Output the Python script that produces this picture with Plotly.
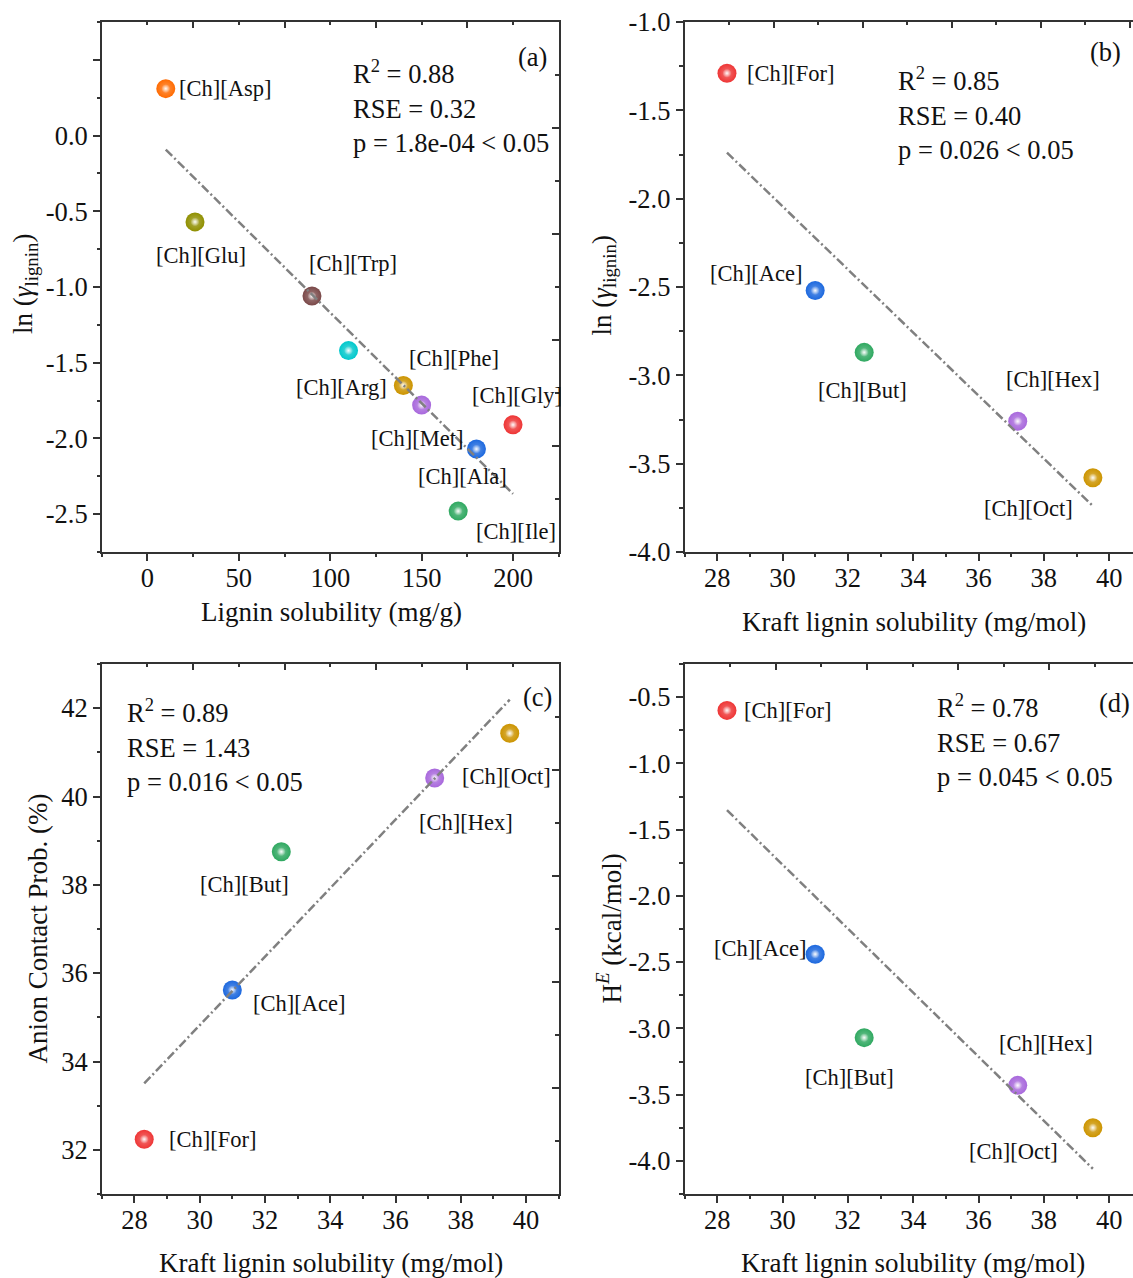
import numpy as np
import plotly.graph_objects as go

# ---------------- data ----------------
a_anions = ["[Ch][Asp]", "[Ch][Glu]", "[Ch][Trp]", "[Ch][Arg]", "[Ch][Phe]",
            "[Ch][Met]", "[Ch][Gly]", "[Ch][Ala]", "[Ch][Ile]"]
a_lignin_solubility = [10, 26, 90, 110, 140, 150, 200, 180, 170]
a_ln_gamma = [0.31, -0.57, -1.06, -1.42, -1.65, -1.78, -1.91, -2.07, -2.48]

kraft_anions = ["[Ch][For]", "[Ch][Ace]", "[Ch][But]", "[Ch][Hex]", "[Ch][Oct]"]
kraft_solubility = [28.3, 31.0, 32.5, 37.2, 39.5]
b_ln_gamma = [-1.29, -2.52, -2.87, -3.26, -3.58]
c_anion_contact = [32.24, 35.62, 38.75, 40.42, 41.43]
d_excess_enthalpy = [-0.60, -2.44, -3.07, -3.43, -3.75]

stats_r2 = ["0.88", "0.85", "0.89", "0.78"]
stats_rse = ["0.32", "0.40", "1.43", "0.67"]
stats_p = ["1.8e-04", "0.026", "0.016", "0.045"]
panel_letters = ["(a)", "(b)", "(c)", "(d)"]

x_titles = ["Lignin solubility (mg/g)", "Kraft lignin solubility (mg/mol)",
            "Kraft lignin solubility (mg/mol)", "Kraft lignin solubility (mg/mol)"]
y_titles = ["ln (<i>γ</i><sub>lignin</sub>)", "ln (<i>γ</i><sub>lignin</sub>)",
            "Anion Contact Prob. (%)", "H<sup><i>E</i></sup> (kcal/mol)"]

a_xtick_vals = [0, 50, 100, 150, 200]
a_ytick_vals = [-2.5, -2.0, -1.5, -1.0, -0.5, 0.0, 0.5]
a_ytick_text = ["-2.5", "-2.0", "-1.5", "-1.0", "-0.5", "0.0", ""]
kraft_xtick_vals = [28, 30, 32, 34, 36, 38, 40]
b_ytick_vals = [-4.0, -3.5, -3.0, -2.5, -2.0, -1.5, -1.0]
b_ytick_text = ["-4.0", "-3.5", "-3.0", "-2.5", "-2.0", "-1.5", "-1.0"]
c_ytick_vals = [32, 34, 36, 38, 40, 42]
c_ytick_text = ["32", "34", "36", "38", "40", "42"]
d_ytick_vals = [-4.0, -3.5, -3.0, -2.5, -2.0, -1.5, -1.0, -0.5]
d_ytick_text = ["-4.0", "-3.5", "-3.0", "-2.5", "-2.0", "-1.5", "-1.0", "-0.5"]

# ---------------- style ----------------
W, H = 1133, 1278
FONT = "Liberation Serif"
AX = "#333333"
TXT = "#111111"
a_colors = ["#FF6A00", "#8F8F00", "#7A4848", "#00C8CC", "#CC9400",
            "#A868DC", "#EE3535", "#1C68DE", "#2FA860"]
kraft_colors = ["#EE3535", "#1C68DE", "#2FA860", "#A868DC", "#CC9400"]


def lighten(hexc, f):
    h = hexc.lstrip("#")
    r, g, b = (int(h[i:i + 2], 16) for i in (0, 2, 4))
    r, g, b = (round(c + (255 - c) * f) for c in (r, g, b))
    return "#%02x%02x%02x" % (r, g, b)


def px_x(p):
    return p / W


def px_y(p):
    return 1 - p / H


# label offsets (pixels, dy positive downward)
a_label_off = [(59.5, 0), (5.6, 33.3), (40.7, -32.4), (-6.6, 36.7), (50.6, -27),
               (-4.6, 33.6), (3.7, -29.7), (-14, 27.7), (57.6, 20)]
b_label_off = [(63.9, 0.6), (-58.7, -17), (-1.5, 37.7), (35, -41.7), (-64.2, 30.6)]
c_label_off = [(68, 0), (66.4, 13.3), (-37.3, 32.6), (30.9, 44.4), (-3.1, 42.7)]
d_label_off = [(61, 0), (-55.2, -5.7), (-14.2, 39.6), (28.6, -41.7), (-78.9, 23.4)]

panels = [
    dict(x=a_lignin_solubility, y=a_ln_gamma, names=a_anions, colors=a_colors, off=a_label_off,
         xdom=(101.8, 558.7), ydom=(22, 552), xr=[-25, 225], yr=[-2.75, 0.75],
         xt=a_xtick_vals, xtt=[str(v) for v in a_xtick_vals], yt=a_ytick_vals, ytt=a_ytick_text,
         xminor=(0, 25), yminor=(0, 0.25), top_n=10.0, right=True,
         stats=(351, 106.5), letter=(532.7, 56.7), xtitle=(331, 611.7), ytitle=(25, 284)),
    dict(x=kraft_solubility, y=b_ln_gamma, names=kraft_anions, colors=kraft_colors, off=b_label_off,
         xdom=(684.5, 1133), ydom=(22, 552), xr=[27, 27 + 448.5 / 32.67], yr=[-4.0, -1.0],
         xt=kraft_xtick_vals, xtt=[str(v) for v in kraft_xtick_vals], yt=b_ytick_vals, ytt=b_ytick_text,
         xminor=(0, 1), yminor=(0, 0.25), top_n=448.5 / 44.5, right=False,
         stats=(896, 113), letter=(1105, 51.7), xtitle=(913.8, 621.7), ytitle=(603.5, 285)),
    dict(x=kraft_solubility, y=c_anion_contact, names=kraft_anions, colors=kraft_colors, off=c_label_off,
         xdom=(101.8, 558.7), ydom=(664, 1194), xr=[27, 41], yr=[31, 43],
         xt=kraft_xtick_vals, xtt=[str(v) for v in kraft_xtick_vals], yt=c_ytick_vals, ytt=c_ytick_text,
         xminor=(0, 1), yminor=(0, 1), top_n=10.0, right=True,
         stats=(124.7, 745), letter=(537.8, 696.7), xtitle=(330.5, 1263.3), ytitle=(37.5, 929)),
    dict(x=kraft_solubility, y=d_excess_enthalpy, names=kraft_anions, colors=kraft_colors, off=d_label_off,
         xdom=(684.5, 1133), ydom=(664, 1194), xr=[27, 27 + 448.5 / 32.67], yr=[-4.25, -0.25],
         xt=kraft_xtick_vals, xtt=[str(v) for v in kraft_xtick_vals], yt=d_ytick_vals, ytt=d_ytick_text,
         xminor=(0, 1), yminor=(0, 0.25), top_n=448.5 / 45.6, right=False,
         stats=(934.5, 740.7), letter=(1114.7, 702.7), xtitle=(912.5, 1263.3), ytitle=(609.5, 929)),
]

fig = go.Figure()
annotations = []
layout = dict(width=W, height=H, margin=dict(l=0, r=0, t=0, b=0, pad=0, autoexpand=False),
              paper_bgcolor="white", plot_bgcolor="rgba(0,0,0,0)", showlegend=False,
              font=dict(family=FONT, color=TXT))

tickfont = dict(family=FONT, size=26.5, color=TXT)
right_idx = 5
for i, p in enumerate(panels):
    n = i + 1
    xa = "x" if n == 1 else f"x{n}"
    ya = "y" if n == 1 else f"y{n}"
    xkey = "xaxis" if n == 1 else f"xaxis{n}"
    ykey = "yaxis" if n == 1 else f"yaxis{n}"

    layout[xkey] = dict(
        domain=[px_x(p["xdom"][0]), px_x(p["xdom"][1])], range=p["xr"], anchor=ya,
        tickmode="array", tickvals=p["xt"], ticktext=p["xtt"],
        ticks="outside", ticklen=7, tickwidth=1.5, tickcolor=AX, ticklabelstandoff=-6,
        showline=True, linecolor=AX, linewidth=1.5, showgrid=False, zeroline=False,
        tickfont=tickfont, fixedrange=True, automargin=False,
        minor=dict(ticks="outside", ticklen=3.5, tickwidth=1.5, tickcolor=AX,
                   tick0=p["xminor"][0], dtick=p["xminor"][1], showgrid=False))
    layout[ykey] = dict(
        domain=[px_y(p["ydom"][1]), px_y(p["ydom"][0])], range=p["yr"], anchor=xa,
        tickmode="array", tickvals=p["yt"], ticktext=p["ytt"],
        ticks="outside", ticklen=7, tickwidth=1.5, tickcolor=AX,
        showline=True, linecolor=AX, linewidth=1.5, showgrid=False, zeroline=False,
        tickfont=tickfont, fixedrange=True, automargin=False,
        minor=dict(ticks="outside", ticklen=3.5, tickwidth=1.5, tickcolor=AX,
                   tick0=p["yminor"][0], dtick=p["yminor"][1], showgrid=False))

    # top mirror axis (inward ticks)
    tkey = f"xaxis{n + 4}"
    layout[tkey] = dict(
        overlaying=xa, anchor=ya, side="top", range=[0, p["top_n"]],
        tickmode="linear", tick0=0, dtick=2, ticks="inside", ticklen=6.5, tickwidth=1.5,
        tickcolor=AX, showticklabels=False, showline=True, linecolor=AX, linewidth=1.5,
        showgrid=False, zeroline=False, fixedrange=True, automargin=False,
        minor=dict(ticks="inside", ticklen=3.5, tickwidth=1.5, tickcolor=AX, tick0=0, dtick=1,
                   showgrid=False))
    fig.add_trace(go.Scatter(x=[None], y=[None], xaxis=f"x{n + 4}", yaxis=ya,
                             showlegend=False, hoverinfo="skip"))
    if p["right"]:
        rkey = f"yaxis{right_idx}"
        layout[rkey] = dict(
            overlaying=ya, anchor=xa, side="right", range=[0, 10],
            tickmode="linear", tick0=0, dtick=2, ticks="inside", ticklen=6.5, tickwidth=1.5,
            tickcolor=AX, showticklabels=False, showline=True, linecolor=AX, linewidth=1.5,
            showgrid=False, zeroline=False, fixedrange=True, automargin=False,
            minor=dict(ticks="inside", ticklen=3.5, tickwidth=1.5, tickcolor=AX, tick0=0, dtick=1,
                       showgrid=False))
        fig.add_trace(go.Scatter(x=[None], y=[None], xaxis=xa, yaxis=f"y{right_idx}",
                                 showlegend=False, hoverinfo="skip"))
        right_idx += 1

    # points: solid sphere body with a glossy white highlight
    fig.add_trace(go.Scatter(
        x=p["x"], y=p["y"], mode="markers", xaxis=xa, yaxis=ya, showlegend=False,
        marker=dict(size=19, color=p["colors"], line=dict(width=0),
                    gradient=dict(type="radial", color=[lighten(c, 0.3) for c in p["colors"]]))))
    fig.add_trace(go.Scatter(
        x=p["x"], y=p["y"], mode="markers", xaxis=xa, yaxis=ya, showlegend=False,
        hoverinfo="skip",
        marker=dict(size=9, color="rgba(255,255,255,0)", line=dict(width=0),
                    gradient=dict(type="radial", color="rgba(255,255,255,0.95)"))))

    # linear fit from the data
    xs = np.array(p["x"], dtype=float)
    ys = np.array(p["y"], dtype=float)
    slope, intercept = np.polyfit(xs, ys, 1)
    xf = np.array([xs.min(), xs.max()])
    fig.add_trace(go.Scatter(
        x=xf, y=slope * xf + intercept, mode="lines", xaxis=xa, yaxis=ya, showlegend=False,
        line=dict(color="#808080", width=2.5, dash="9px,3px,2px,3px")))

    # point labels
    for name, xv, yv, (dx, dy) in zip(p["names"], p["x"], p["y"], p["off"]):
        annotations.append(dict(x=xv, y=yv, xref=xa, yref=ya, text=name, showarrow=False,
                                xanchor="center", yanchor="middle", xshift=dx, yshift=-dy,
                                font=dict(family=FONT, size=22.5, color=TXT)))

    # statistics
    sx, sy = p["stats"]
    annotations.append(dict(
        x=px_x(sx), y=px_y(sy), xref="paper", yref="paper", showarrow=False,
        xanchor="left", yanchor="middle", align="left",
        text=f"R<sup>2</sup> = {stats_r2[i]}<br>RSE = {stats_rse[i]}<br>p = {stats_p[i]} &lt; 0.05",
        font=dict(family=FONT, size=26.5, color=TXT)))
    lx, ly = p["letter"]
    annotations.append(dict(x=px_x(lx), y=px_y(ly), xref="paper", yref="paper", showarrow=False,
                            xanchor="center", yanchor="middle", text=panel_letters[i],
                            font=dict(family=FONT, size=26.5, color=TXT)))
    tx, ty = p["xtitle"]
    annotations.append(dict(x=px_x(tx), y=px_y(ty), xref="paper", yref="paper", showarrow=False,
                            xanchor="center", yanchor="middle", text=x_titles[i],
                            font=dict(family=FONT, size=27, color=TXT)))
    vx, vy = p["ytitle"]
    annotations.append(dict(x=px_x(vx), y=px_y(vy), xref="paper", yref="paper", showarrow=False,
                            xanchor="center", yanchor="middle", text=y_titles[i], textangle=-90,
                            font=dict(family=FONT, size=27, color=TXT)))

layout["annotations"] = annotations
fig.update_layout(**layout)
fig.write_html("out.html")
